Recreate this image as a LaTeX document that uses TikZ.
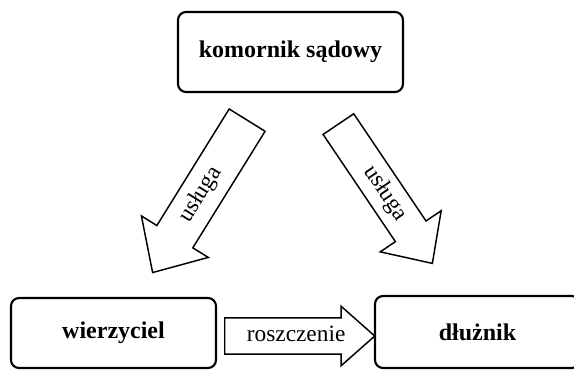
\documentclass[tikz,border=0pt]{standalone}
\usepackage{fontspec}
\setmainfont{Liberation Serif}
\usetikzlibrary{shapes.arrows}

\begin{document}
\begin{tikzpicture}[x=0.75pt,y=-0.75pt,
  box/.style={draw,line width=1.6pt,rounded corners=6pt,
    font=\fontsize{18}{20}\selectfont\bfseries},
  blockarrow/.style={draw,single arrow,line width=1.1pt,inner xsep=0pt,
    text height=11.5pt,text depth=3.5pt,anchor=tail,
    single arrow head indent=0pt,font=\fontsize{17.5}{20}\selectfont}]
\useasboundingbox (0,0) rectangle (574,369);
\node[box,minimum width=168.75pt,minimum height=60pt] (komornik) at (290.5,52) {komornik sądowy};
\node[box,minimum width=153.75pt,minimum height=52.5pt] (wierzyciel) at (113.5,333) {wierzyciel};
\node[box,minimum width=153.75pt,minimum height=54pt] (dluznik) at (477.5,332) {dłużnik};
\node[blockarrow,minimum height=134.5pt,inner ysep=7.8pt,
  single arrow head extend=13.65pt,single arrow tip angle=86,
  shape border rotate=180,rotate=58.2] (usluga1) at (247.5,119.5) {usługa\hspace*{14pt}};
\node[blockarrow,minimum height=126pt,inner ysep=5.8pt,
  single arrow head extend=13.7pt,single arrow tip angle=87,
  rotate=-56] (usluga2) at (338,123.5) {\hspace*{14pt}usługa};
\node[blockarrow,minimum height=112.5pt,inner ysep=5.6pt,
  single arrow head extend=8.6pt,single arrow tip angle=83] (roszczenie) at (224,336) {\hspace*{10pt}roszczenie};
\end{tikzpicture}
\end{document}
